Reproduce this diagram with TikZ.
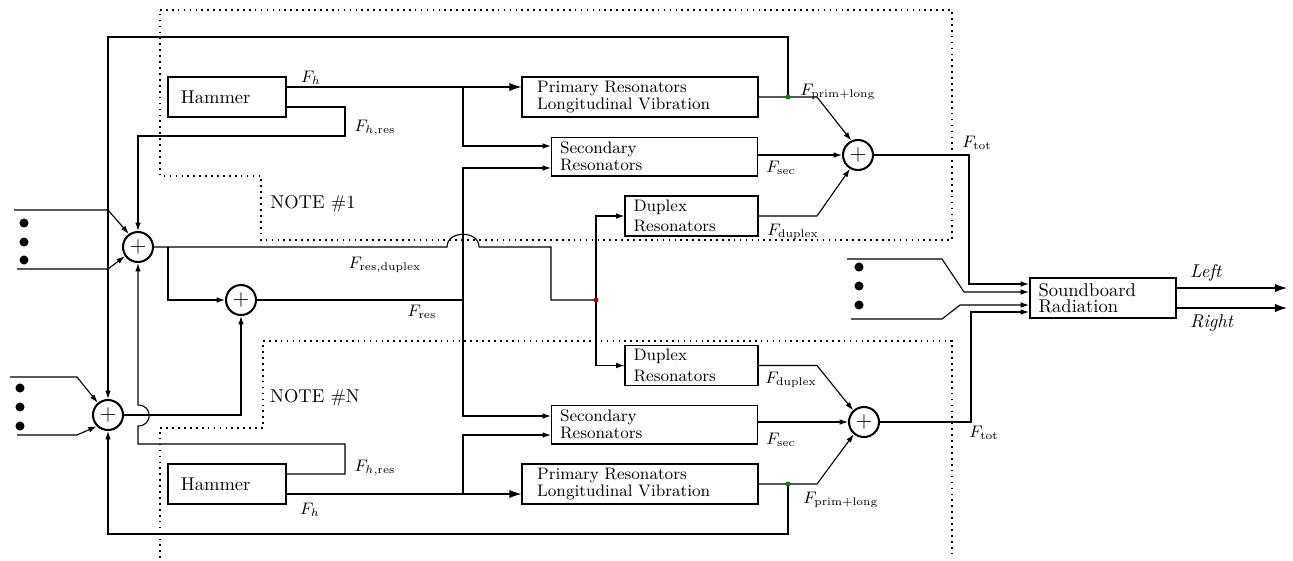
\documentclass[tikz,border=0pt]{standalone}
\usepackage{tikz}
\usetikzlibrary{arrows.meta,positioning,calc}
\tikzset{
  >={Latex[length=4.5pt,width=3pt]},
  font=\small,
  blk/.style  ={draw, align=left, minimum height=21.6pt, inner ysep=0pt, inner xsep=4.6pt, font=\small},
  hblk/.style ={blk, line width=1.1pt, font=\normalsize, inner xsep=7pt},
  pblk/.style ={blk, line width=1.1pt, inner xsep=8pt},
  sum/.style  ={draw, circle, line width=1.1pt, minimum size=16.2pt, inner sep=0pt, font=\large},
  arr/.style  ={->},
  barr/.style ={-{Latex[length=6.5pt,width=4.5pt]}},
  lbl/.style  ={font=\small, inner sep=1pt},
  txt/.style  ={font=\normalsize, inner sep=1pt},
  bul/.style  ={circle, fill, inner sep=0pt, minimum size=4.9pt},
  tap/.style  ={circle, fill=green!50!black, inner sep=0pt, minimum size=2.6pt},
  rtap/.style ={circle, fill=red!65!black, inner sep=0pt, minimum size=2.6pt},
  note/.style ={line width=0.9pt, dash pattern=on 0.9pt off 2.3pt},
}

\begin{document}
\begin{tikzpicture}[x=0.54pt, y=-0.54pt, line width=0.6pt]
  \useasboundingbox (0,0) rectangle (1293,560);

  % note regions
  \draw[note] (160,10) -- (952,10) -- (952,240) -- (261,240) -- (261,176) -- (160,176) -- cycle;
  \draw[note] (160,558) -- (160,428) -- (263,428) -- (263,341) -- (952,341) -- (952,558);
  \node[txt] (note1) at (313,204) {NOTE \#1};
  \node[txt] (noteN) at (315,398) {NOTE \#N};

  % NOTE #1
  \node[hblk, text width=49.7pt] (hamA) at (227,97) {Hammer};
  \node[pblk, text width=111pt] (priA) at (640,97) {Primary Resonators\\[-2pt]Longitudinal Vibration};
  \node[blk, text width=102pt, minimum height=21pt] (secA) at (654.5,156.5) {Secondary\\[-2pt]Resonators};
  \node[blk, text width=62.6pt] (dupA) at (691.5,216) {Duplex\\Resonators};
  \node[sum] (sumA) at (858,155) {$+$};

  % NOTE #N
  \node[hblk, text width=49.7pt] (hamN) at (227,484) {Hammer};
  \node[pblk, text width=111pt] (priN) at (640,484) {Primary Resonators\\[-2pt]Longitudinal Vibration};
  \node[blk, text width=102pt, minimum height=21pt] (secN) at (654.5,424.5) {Secondary\\[-2pt]Resonators};
  \node[blk, text width=62.6pt] (dupN) at (691.5,365.5) {Duplex\\Resonators};
  \node[sum] (sumB) at (864,422) {$+$};

  % shared sums and soundboard
  \node[sum] (sumIn1) at (138,247) {$+$};
  \node[sum] (sumRes) at (241,300) {$+$};
  \node[sum] (sumInN) at (108,415) {$+$};
  \node[hblk, inner xsep=4.6pt, text width=69.6pt] (sbd) at (1103,298) {Soundboard\\[-3pt]Radiation};

  \foreach \y in {223,242,260} \node[bul] (bA\y) at (24,\y) {};
  \foreach \y in {388,407,426} \node[bul] (bN\y) at (20,\y) {};
  \foreach \y in {267,286,305} \node[bul] (bS\y) at (859,\y) {};

  \coordinate (inA1) at (14,210);
  \coordinate (inA2) at (17,269);
  \coordinate (inN1) at (10,377);
  \coordinate (inN2) at (17,435);
  \coordinate (inS1) at (847,259);
  \coordinate (inS2) at (851,319);
  \coordinate (outL) at (1287,288);
  \coordinate (outR) at (1287,308);
  \coordinate (tapA) at (788,97);
  \coordinate (tapN) at (788,484);
  \coordinate (brA) at (463,87);
  \coordinate (brN) at (463,494);
  \coordinate (resJ) at (463,300);
  \coordinate (dupJ) at (596,300);
  \coordinate (splt) at (168,247);

  % hammer / resonators, note 1
  \draw[barr] (hamA.east |- brA) -- (priA.west |- brA);
  \draw[arr] (brA) |- (secA.west |- 0,146);
  \draw[arr] (hamA.east |- 0,107) -| (345,136) -| (sumIn1.north);
  \draw[arr] (priA.east |- tapA) -- (817,97) -- (sumA.115);
  \draw[arr] (secA.east |- sumA) -- (sumA.west);
  \draw[arr] (dupA.east) -- (817,216) -- (sumA.240);
  \draw[arr] (sumA.east) -| (969,284) -- (sbd.west |- 0,284);
  \draw[arr] (tapA) |- (108,37) -- (sumInN.north);

  % hammer / resonators, note N
  \draw[barr] (hamN.east |- brN) -- (priN.west |- brN);
  \draw[arr] (brN) |- (secN.west |- 0,435);
  \draw[arr] (hamN.east |- 0,474) -| (345,444) -- (138,444) -- (138,426)
    .. controls (153,426) and (153,405) .. (138,405) -- (sumIn1.south);
  \draw[arr] (priN.east |- tapN) -- (817,484) -- (sumB.230);
  \draw[arr] (secN.east |- sumB) -- (sumB.west);
  \draw[arr] (dupN.east) -- (817,365.5) -- (sumB.133);
  \draw[arr] (sumB.east) -| (971,312) -- (sbd.west |- 0,312);
  \draw[arr] (tapN) |- (sumInN.south |- 0,534) -- (sumInN.south);

  % inputs from other notes
  \draw[arr] (inA1) -- (108,210) -- (sumIn1.125);
  \draw[arr] (inA2) -- (108,269) -- (sumIn1.215);
  \draw[arr] (inN1) -- (77,377) -- (sumInN.130);
  \draw[arr] (inN2) -- (77,435) -- (sumInN.225);
  \draw[arr] (inS1) -- (942,259) -- (964,292) -- (sbd.west |- 0,292);
  \draw[arr] (inS2) -- (942,319) -- (960,305) -- (sbd.west |- 0,305);

  % residual feedback
  \draw (sumIn1.east) -- (447,247) .. controls (447,230) and (479,230) .. (479,247) -- (551,247) |- (dupJ);
  \draw[arr] (dupJ) |- (dupA.west);
  \draw[arr] (dupJ) |- (dupN.west);
  \draw[arr] (splt) |- (sumRes.west);
  \draw[arr] (sumInN.east) -| (sumRes.south);
  \draw (sumRes.east) -- (resJ);
  \draw[arr] (resJ) -- (resJ |- 0,168) -- (secA.west |- 0,168);
  \draw[arr] (resJ) -- (resJ |- 0,416) -- (secN.west |- 0,416);

  % outputs
  \draw[barr] (sbd.east |- outL) -- (outL);
  \draw[barr] (sbd.east |- outR) -- (outR);

  \node[tap] (dA) at (tapA) {};
  \node[tap] (dN) at (tapN) {};
  \node[rtap] (dJ) at (dupJ) {};

  % labels
  \node[lbl] (lFhA) at (311,78) {$F_h$};
  \node[lbl] (lFhrA) at (375,128) {$F_{h,\mathrm{res}}$};
  \node[lbl] (lFpA) at (838,92) {$F_{\mathrm{prim+long}}$};
  \node[lbl] (lFsA) at (781,168) {$F_{\mathrm{sec}}$};
  \node[lbl] (lFdA) at (793,232) {$F_{\mathrm{duplex}}$};
  \node[lbl] (lFtA) at (977,143) {$F_{\mathrm{tot}}$};
  \node[lbl] (lFrd) at (385,265) {$F_{\mathrm{res,duplex}}$};
  \node[lbl] (lFr) at (422,312) {$F_{\mathrm{res}}$};
  \node[lbl] (lFhrN) at (375,468) {$F_{h,\mathrm{res}}$};
  \node[lbl] (lFhN) at (310,510) {$F_h$};
  \node[lbl] (lFdN) at (791,380) {$F_{\mathrm{duplex}}$};
  \node[lbl] (lFsN) at (781,440) {$F_{\mathrm{sec}}$};
  \node[lbl] (lFpN) at (841,500) {$F_{\mathrm{prim+long}}$};
  \node[lbl] (lFtN) at (984,433) {$F_{\mathrm{tot}}$};
  \node[txt] (lL) at (1206,273) {\textit{Left}};
  \node[txt] (lR) at (1212,323) {\textit{Right}};
\end{tikzpicture}
\end{document}
